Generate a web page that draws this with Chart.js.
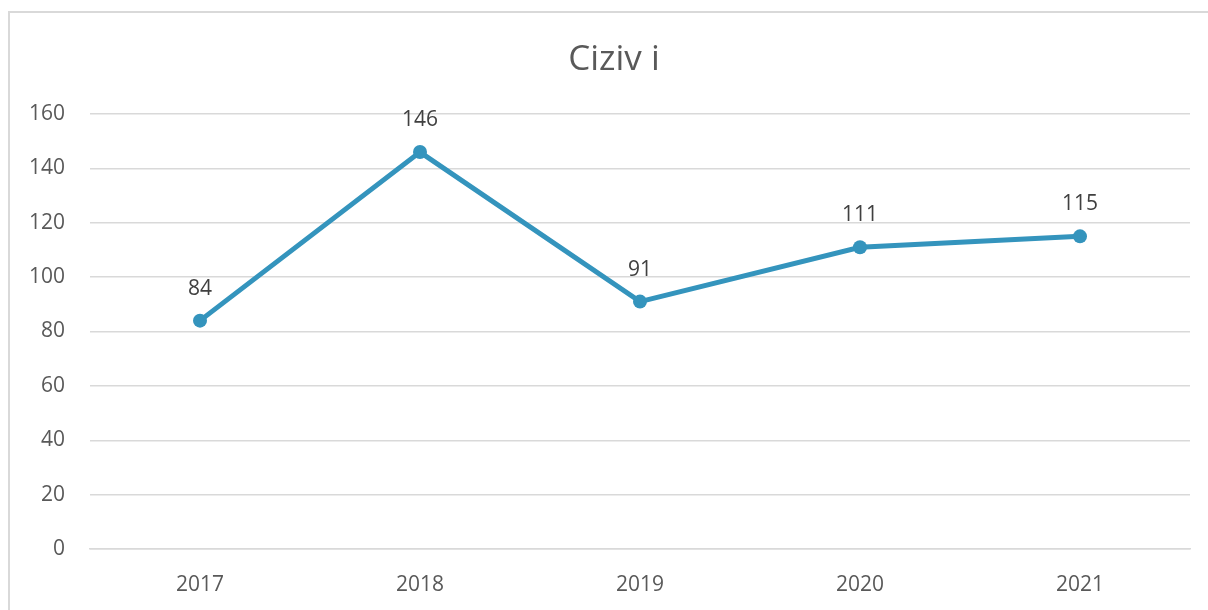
<!DOCTYPE html>
<html>
<head>
<meta charset="utf-8">
<script src="https://cdn.jsdelivr.net/npm/chart.js@4"></script>
<style>
  html, body { margin: 0; padding: 0; background: #fff; }
  #wrap { width: 1208px; height: 610px; position: relative; }
</style>
</head>
<body>
<div id="wrap"><canvas id="chart" width="1208" height="610"></canvas></div>
<script>
var years = ['2017', '2018', '2019', '2020', '2021'];
var values = [84, 146, 91, 111, 115];
var title = 'Ciziv i';

var textColor = '#595959';
var lineColor = '#3494bd';
var fontFamily = '"Open Sans", "Noto Sans", sans-serif';

// outer frame like the office chart box, plus the title centred on it
var framePlugin = {
    id: 'frame',
    beforeDraw: function(chart) {
        var ctx = chart.ctx;
        ctx.save();
        ctx.strokeStyle = '#d9d9d9';
        ctx.lineWidth = 2;
        ctx.beginPath();
        ctx.moveTo(9, 610);
        ctx.lineTo(9, 12);
        ctx.lineTo(1208, 12);
        ctx.stroke();
        ctx.font = '35px ' + fontFamily;
        ctx.fillStyle = textColor;
        ctx.textAlign = 'center';
        ctx.textBaseline = 'middle';
        ctx.fillText(title, 614, 60);
        ctx.restore();
    }
};

// value labels above each point
var labelPlugin = {
    id: 'valueLabels',
    afterDatasetsDraw: function(chart) {
        var ctx = chart.ctx;
        var meta = chart.getDatasetMeta(0);
        ctx.save();
        ctx.font = '21px ' + fontFamily;
        ctx.fillStyle = '#404040';
        ctx.textAlign = 'center';
        ctx.textBaseline = 'middle';
        meta.data.forEach(function(pt, i) {
            ctx.fillText(values[i], pt.x, pt.y - 32);
        });
        ctx.restore();
    }
};

new Chart(document.getElementById('chart').getContext('2d'), {
    type: 'line',
    data: {
        labels: years,
        datasets: [{
            label: title,
            data: values,
            borderColor: lineColor,
            backgroundColor: lineColor,
            borderWidth: 5,
            pointRadius: 7,
            pointBorderWidth: 0,
            tension: 0
        }]
    },
    options: {
        responsive: false,
        animation: false,
        layout: { padding: { left: 0, right: 18, top: 114, bottom: 0 } },
        plugins: {
            legend: { display: false },
            tooltip: { enabled: false },
            title: { display: false }
        },
        scales: {
            x: {
                offset: true,
                grid: { display: false, drawTicks: false },
                border: { display: true, color: '#d9d9d9', width: 1.5 },
                ticks: { color: textColor, font: { family: fontFamily, size: 21 }, padding: 23 },
                afterFit: function(s) { s.height = 61; }
            },
            y: {
                min: 0,
                max: 160,
                ticks: { stepSize: 20, color: textColor, font: { family: fontFamily, size: 21 }, padding: 25 },
                grid: { color: '#d9d9d9', lineWidth: 1.5, drawTicks: false },
                border: { display: false },
                afterFit: function(s) { s.width = 90; }
            }
        }
    },
    plugins: [framePlugin, labelPlugin]
});
</script>
</body>
</html>
